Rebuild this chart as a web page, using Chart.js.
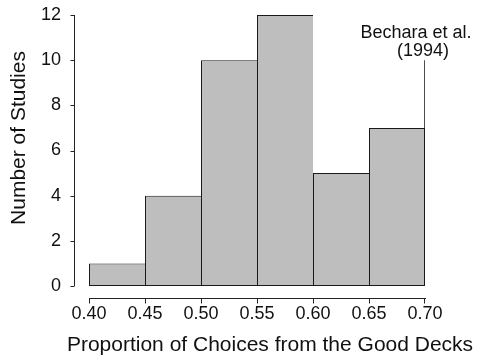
<!DOCTYPE html>
<html lang="en">
<head>
    <meta charset="UTF-8">
    <title>Number of Studies</title>
    <script src="https://cdn.jsdelivr.net/npm/chart.js"></script>
    <style>
        body { margin: 0; background: #fff; }
        #wrap { width: 488px; height: 364px; }
    </style>
</head>
<body>
    <div id="wrap"><canvas id="histChart" width="488" height="364"></canvas></div>

    <script>
        // histogram bins (edges) and study counts
        const binEdges = [0.40, 0.45, 0.50, 0.55, 0.60, 0.65, 0.70];
        const studyCounts = [1, 4, 10, 12, 5, 7];
        const yTicks = [0, 2, 4, 6, 8, 10, 12];
        // reference line for the original study
        const refLine = [{ x: 0.70, y: 0 }, { x: 0.70, y: 10 }];
        const refLabel = ['Bechara et al.', '(1994)'];
        const xTitle = 'Proportion of Choices from the Good Decks';
        const yTitle = 'Number of Studies';

        const barData = studyCounts.map((c, i) => ({ x: (binEdges[i] + binEdges[i + 1]) / 2, y: c }));
        const FONT = '"Liberation Sans", Arial, Helvetica, sans-serif';

        // R-style detached axes + titles + annotation
        const rAxes = {
            id: 'rAxes',
            afterDraw(chart) {
                const ctx = chart.ctx;
                const xs = chart.scales.x, ys = chart.scales.y;
                const area = chart.chartArea;
                ctx.save();
                ctx.strokeStyle = '#222';
                ctx.lineWidth = 1;

                // y axis
                const ax = Math.round(area.left - 15) + 0.5;
                ctx.beginPath();
                ctx.moveTo(ax, ys.getPixelForValue(yTicks[0]));
                ctx.lineTo(ax, ys.getPixelForValue(yTicks[yTicks.length - 1]));
                yTicks.forEach(t => {
                    const py = Math.round(ys.getPixelForValue(t)) + 0.5;
                    ctx.moveTo(ax, py);
                    ctx.lineTo(ax - 4, py);
                });
                ctx.stroke();

                // x axis
                const ay = Math.round(area.bottom + 12) + 0.5;
                ctx.beginPath();
                ctx.moveTo(xs.getPixelForValue(binEdges[0]), ay);
                ctx.lineTo(xs.getPixelForValue(binEdges[binEdges.length - 1]) + 1, ay);
                binEdges.forEach((t, i) => {
                    const px = Math.round(xs.getPixelForValue(t)) + (i === binEdges.length - 1 ? -0.5 : 0.5);
                    ctx.moveTo(px, ay);
                    ctx.lineTo(px, ay + 5);
                });
                ctx.stroke();

                // titles
                ctx.fillStyle = '#111';
                ctx.font = '21px ' + FONT;
                ctx.textAlign = 'center';
                ctx.textBaseline = 'middle';
                ctx.fillText(xTitle, (area.left + area.right) / 2 + 13, area.bottom + 59);
                ctx.save();
                ctx.translate(19, area.top + 123);
                ctx.rotate(-Math.PI / 2);
                ctx.fillText(yTitle, 0, 0);
                ctx.restore();

                // annotation
                const lx = xs.getPixelForValue(refLine[1].x);
                const ly = ys.getPixelForValue(refLine[1].y);
                ctx.font = '18px ' + FONT;
                ctx.fillText(refLabel[0], lx - 9, ly - 27);
                ctx.fillText(refLabel[1], lx - 2, ly - 9);
                ctx.restore();
            }
        };

        const lastBar = studyCounts.length - 1;

        new Chart(document.getElementById('histChart').getContext('2d'), {
            data: {
                datasets: [{
                    type: 'bar',
                    data: barData,
                    backgroundColor: '#bebebe',
                    borderColor: '#1a1a1a',
                    borderWidth: ctx => ctx.dataIndex === lastBar ? 1 : { top: 1, left: 1, bottom: 1, right: 0 },
                    borderSkipped: false,
                    barPercentage: 1,
                    categoryPercentage: 1,
                    inflateAmount: 0
                }, {
                    type: 'line',
                    data: refLine,
                    borderColor: '#111',
                    borderWidth: 1.5,
                    pointRadius: 0,
                    fill: false
                }]
            },
            options: {
                responsive: false,
                animation: false,
                layout: { padding: { left: 0, right: 63, top: 15, bottom: 0 } },
                plugins: { legend: { display: false }, tooltip: { enabled: false } },
                scales: {
                    x: {
                        type: 'linear',
                        min: binEdges[0],
                        max: binEdges[binEdges.length - 1],
                        offset: false,
                        grid: { display: false, drawTicks: false },
                        border: { display: false },
                        afterBuildTicks: s => { s.ticks = binEdges.map(v => ({ value: v })); },
                        afterFit: s => { s.height = 78; s.paddingLeft = 0; s.paddingRight = 0; },
                        ticks: {
                            padding: 17,
                            maxRotation: 0,
                            autoSkip: false,
                            color: '#111',
                            font: { family: FONT, size: 18 },
                            callback: v => v.toFixed(2)
                        }
                    },
                    y: {
                        min: 0,
                        max: 12,
                        grid: { display: false, drawTicks: false },
                        border: { display: false },
                        afterBuildTicks: s => { s.ticks = yTicks.map(v => ({ value: v })); },
                        afterFit: s => { s.width = 89; s.paddingTop = 0; s.paddingBottom = 0; },
                        ticks: {
                            padding: 28,
                            color: '#111',
                            font: { family: FONT, size: 18 }
                        }
                    }
                }
            },
            plugins: [rAxes]
        });
    </script>
</body>
</html>
